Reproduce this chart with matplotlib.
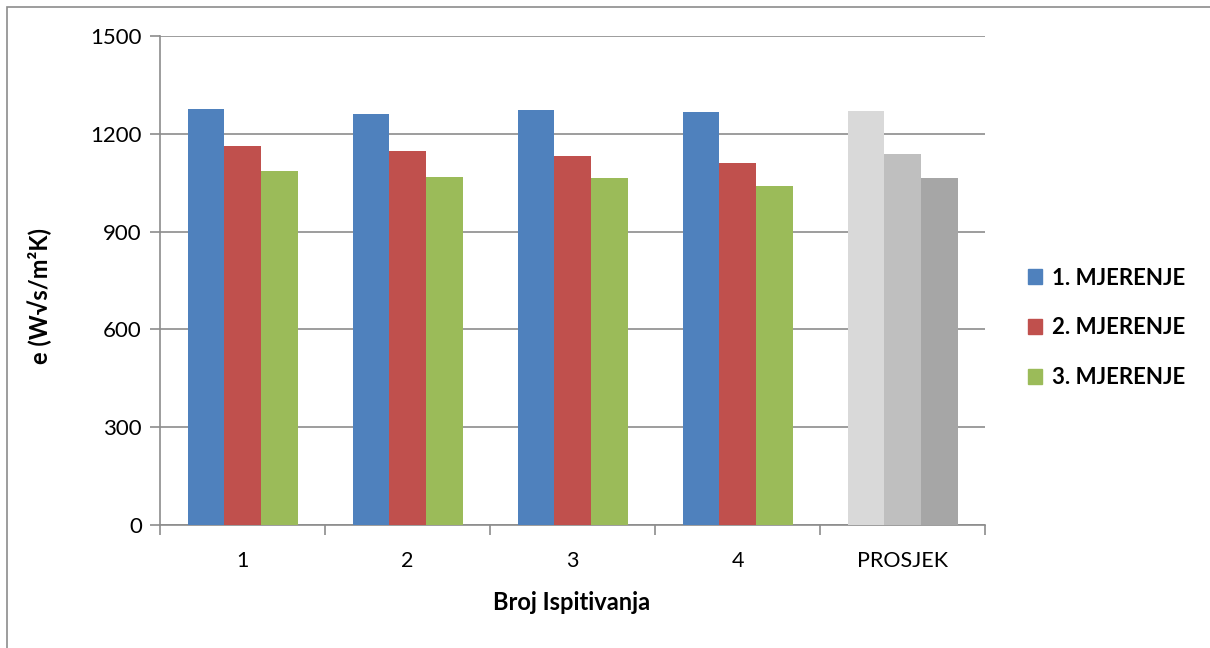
import matplotlib
matplotlib.use("Agg")
import matplotlib.pyplot as plt
from matplotlib.patches import Rectangle
import numpy as np

plt.rcParams['font.family'] = ['Lato', 'DejaVu Sans']

categories = ['1', '2', '3', '4', 'PROSJEK']
series_names = ['1. MJERENJE', '2. MJERENJE', '3. MJERENJE']
mjerenje_1 = [1276, 1260, 1274, 1266, 1270]
mjerenje_2 = [1163, 1146, 1133, 1110, 1138]
mjerenje_3 = [1086, 1067, 1064, 1041, 1064]
y_ticks = [0, 300, 600, 900, 1200, 1500]

series = [mjerenje_1, mjerenje_2, mjerenje_3]
colors = ['#4F81BD', '#C0504D', '#9BBB59']
avg_colors = ['#D9D9D9', '#BFBFBF', '#A6A6A6']

W, H = 1210, 648
fig = plt.figure(figsize=(W / 100, H / 100), dpi=100)
fig.patch.set_facecolor('white')

# outer chart frame (clipped at right and bottom)
fig.add_artist(Rectangle((7 / W, -0.1), 1.2, (H - 7) / H + 0.1,
                         transform=fig.transFigure, fill=False,
                         edgecolor='#8C8C8C', linewidth=1.2))

ax = fig.add_axes([160 / W, (H - 525) / H, (985 - 160) / W, (525 - 36) / H])

x = np.arange(len(categories))
w = 1 / 4.5
for i, vals in enumerate(series):
    offs = (i - 1) * w
    cols = [colors[i]] * (len(categories) - 1) + [avg_colors[i]]
    ax.bar(x + offs, vals, width=w, color=cols, edgecolor='none',
           label=series_names[i], zorder=3)

ax.set_xlim(-0.5, len(categories) - 0.5)
ax.set_ylim(0, 1500)
ax.set_yticks(y_ticks)
ax.set_yticklabels([str(t) for t in y_ticks], fontsize=16)
ax.yaxis.grid(True, color='#8C8C8C', linewidth=1.2, zorder=0)
ax.set_axisbelow(True)

ax.set_xticks(x)
ax.set_xticklabels(categories, fontsize=15.5)
ax.set_xticks(np.arange(-0.5, len(categories), 1), minor=True)
ax.tick_params(axis='x', which='major', length=0, pad=19)
ax.tick_params(axis='x', which='minor', length=7, color='#8C8C8C', width=1.2)
ax.tick_params(axis='y', length=7, color='#8C8C8C', width=1.2, pad=6)

for s in ['top', 'right']:
    ax.spines[s].set_visible(False)
for s in ['left', 'bottom']:
    ax.spines[s].set_color('#8C8C8C')
    ax.spines[s].set_linewidth(1.2)

# axis titles
fig.text(572 / W, 1 - 603 / H, 'Broj Ispitivanja', fontsize=17,
         fontweight='bold', ha='center', va='center')
fig.text(40 / W, 1 - 296 / H, 'e (W√s/m²K)', fontsize=17,
         fontweight='bold', ha='center', va='center', rotation=90)

handles = [Rectangle((0, 0), 1, 1, color=c) for c in colors]
fig.legend(handles, series_names, loc='center left',
           bbox_to_anchor=(1008 / W, 1 - 328 / H),
           frameon=False, prop={'size': 16, 'weight': 'bold'},
           handlelength=0.65, handleheight=0.65, handletextpad=0.45,
           labelspacing=1.3)

fig.savefig('out.png', dpi=100, facecolor='white')
